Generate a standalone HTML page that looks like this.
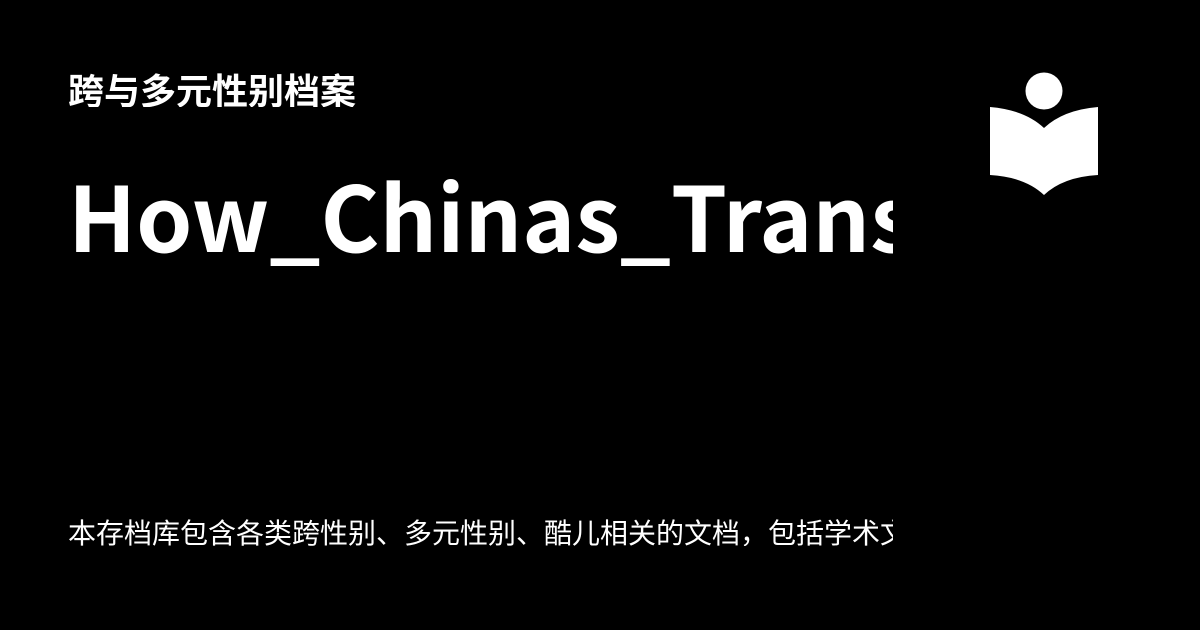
<!DOCTYPE html>
<html><head><meta charset="utf-8"><style>
html,body{margin:0;padding:0;background:#000;}
body{width:1200px;height:630px;position:relative;overflow:hidden;font-family:"Liberation Sans","Noto Sans CJK SC",sans-serif;color:#fff;}
.t{position:absolute;left:68px;white-space:nowrap;overflow:hidden;}
#sub{top:71px;font-size:36px;line-height:36px;font-weight:700;font-family:"Noto Sans CJK SC",sans-serif;}
#title{top:148px;width:825px;font-size:90px;line-height:130px;font-weight:700;font-family:"Noto Sans CJK SC",sans-serif;}
#desc{top:518px;width:825px;font-size:28px;line-height:28px;font-family:"Noto Sans CJK SC",sans-serif;}
</style></head><body>
<div id="sub" class="t">跨与多元性别档案</div>
<div id="title" class="t">How_Chinas_Transgender_Community</div>
<div id="desc" class="t">本存档库包含各类跨性别、多元性别、酷儿相关的文档，包括学术文章</div>
<svg style="position:absolute;left:0;top:0" width="1200" height="630">
<circle cx="1044" cy="91" r="18.5" fill="#fff"/>
<path d="M990 107 Q1025 110 1044 128 Q1063 110 1098 107 L1098 175 Q1063 177 1044 195 Q1025 177 990 175 Z" fill="#fff"/>
</svg>
</body></html>
